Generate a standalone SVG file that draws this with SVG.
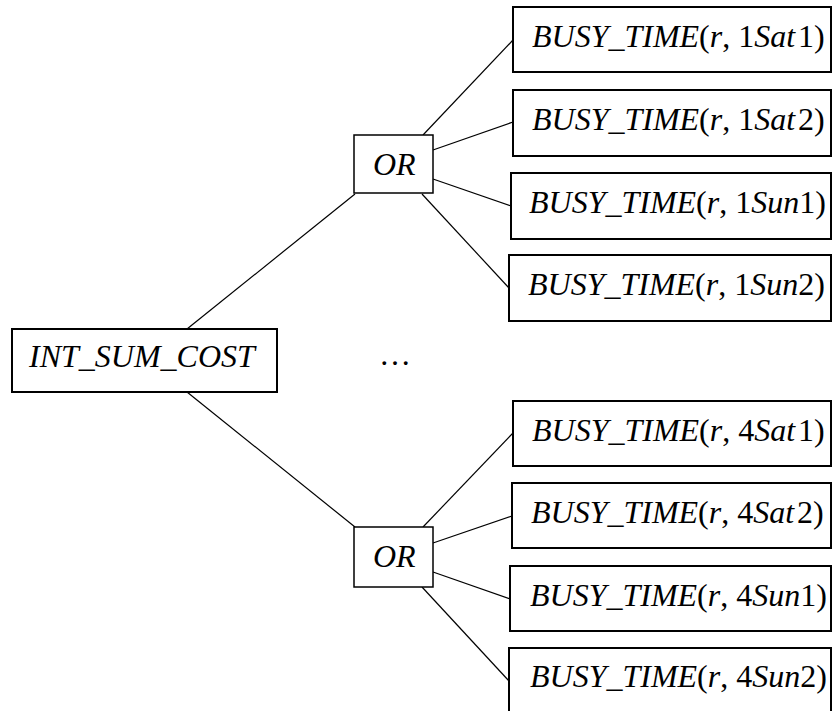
<svg xmlns="http://www.w3.org/2000/svg" width="833" height="711" viewBox="0 0 833 711">
<style>
  .box { fill: #fff; stroke: #000; stroke-width: 2; }
  .or { fill: #fff; stroke: #000; stroke-width: 1.5; }
  .edge { stroke: #000; stroke-width: 1.2; fill: none; }
  .t { font-family: 'Liberation Serif', serif; font-size: 32px; fill: #000; }
  .i { font-style: italic; }
</style>
<rect width="833" height="711" fill="#fff"/>
<g id="connectors">
  <line class="edge" x1="187" y1="329" x2="355" y2="194"/>
  <line class="edge" x1="187" y1="392" x2="355" y2="527"/>
  <line class="edge" x1="423" y1="135" x2="513" y2="40"/>
  <line class="edge" x1="433" y1="150" x2="513" y2="122"/>
  <line class="edge" x1="433" y1="179" x2="511" y2="206"/>
  <line class="edge" x1="422" y1="194" x2="509" y2="288"/>
  <line class="edge" x1="423" y1="527" x2="513" y2="433"/>
  <line class="edge" x1="433" y1="543" x2="512" y2="516"/>
  <line class="edge" x1="433" y1="572" x2="510" y2="599"/>
  <line class="edge" x1="422" y1="587" x2="509" y2="681"/>
</g>
<g id="root">
  <rect class="box" x="12" y="329" width="265" height="63"/>
  <text class="t i" x="29" y="367">INT_SUM_COST</text>
</g>
<g id="or1">
  <rect class="or" x="354" y="135" width="79" height="58"/>
  <text class="t i" x="373" y="175">OR</text>
</g>
<g id="or2">
  <rect class="or" x="354" y="527" width="79" height="60"/>
  <text class="t i" x="373" y="567">OR</text>
</g>
<g id="ellipsis">
  <text class="t" x="395" y="365" text-anchor="middle">…</text>
</g>
<g id="b1">
  <rect class="box" x="513" y="7" width="318" height="65"/>
  <text class="t" x="532" y="47"><tspan class="i">BUSY_TIME</tspan>(<tspan class="i">r</tspan>, 1<tspan class="i">Sat</tspan><tspan dx="3">1)</tspan></text>
</g>
<g id="b2">
  <rect class="box" x="513" y="90" width="318" height="66"/>
  <text class="t" x="532" y="130"><tspan class="i">BUSY_TIME</tspan>(<tspan class="i">r</tspan>, 1<tspan class="i">Sat</tspan><tspan dx="3">2)</tspan></text>
</g>
<g id="b3">
  <rect class="box" x="511" y="173" width="320" height="66"/>
  <text class="t" x="529" y="213"><tspan class="i">BUSY_TIME</tspan>(<tspan class="i">r</tspan>, 1<tspan class="i">Sun</tspan>1)</text>
</g>
<g id="b4">
  <rect class="box" x="509" y="255" width="322" height="66"/>
  <text class="t" x="528" y="295"><tspan class="i">BUSY_TIME</tspan>(<tspan class="i">r</tspan>, 1<tspan class="i">Sun</tspan>2)</text>
</g>
<g id="b5">
  <rect class="box" x="513" y="401" width="318" height="65"/>
  <text class="t" x="532" y="441"><tspan class="i">BUSY_TIME</tspan>(<tspan class="i">r</tspan>, 4<tspan class="i">Sat</tspan><tspan dx="3">1)</tspan></text>
</g>
<g id="b6">
  <rect class="box" x="512" y="483" width="319" height="65"/>
  <text class="t" x="531" y="523"><tspan class="i">BUSY_TIME</tspan>(<tspan class="i">r</tspan>, 4<tspan class="i">Sat</tspan><tspan dx="3">2)</tspan></text>
</g>
<g id="b7">
  <rect class="box" x="510" y="566" width="321" height="65"/>
  <text class="t" x="530" y="606"><tspan class="i">BUSY_TIME</tspan>(<tspan class="i">r</tspan>, 4<tspan class="i">Sun</tspan>1)</text>
</g>
<g id="b8">
  <rect class="box" x="509" y="648" width="322" height="66"/>
  <text class="t" x="530" y="687"><tspan class="i">BUSY_TIME</tspan>(<tspan class="i">r</tspan>, 4<tspan class="i">Sun</tspan>2)</text>
</g>
</svg>
